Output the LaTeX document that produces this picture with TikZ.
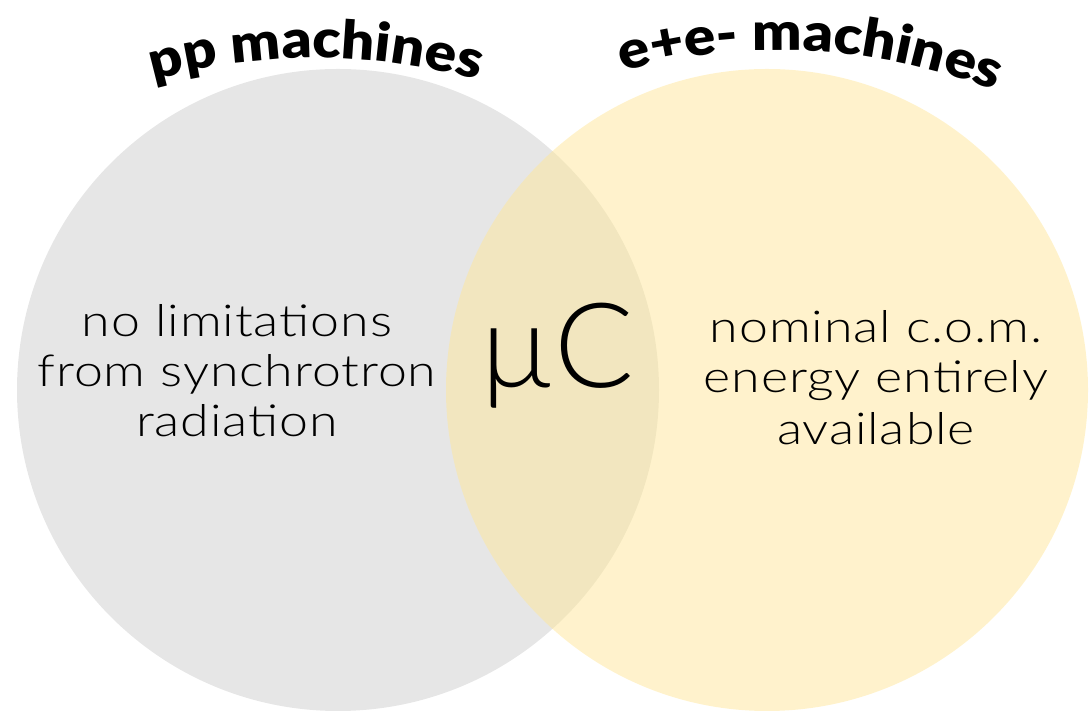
\documentclass[tikz,border=0pt]{standalone}
\usepackage{fontspec}
\setmainfont{Lato}[UprightFont={* Light}, FakeStretch=1.18, LetterSpace=2]
\newfontfamily\bigfont{Lato}[UprightFont={* Light}]
\newfontfamily\headfont{Lato}[UprightFont={* Black}, FakeStretch=1.1]
\usetikzlibrary{decorations.text}
\definecolor{ppgray}{HTML}{E6E6E6}
\definecolor{eegold}{HTML}{FFE699}
\begin{document}
\begin{tikzpicture}[x=1pt,y=1pt,
  setcircle/.style={circle, inner sep=0pt, minimum size=642pt},
  bodytext/.style={inner sep=0pt, anchor=base, font=\fontsize{44}{50}\selectfont},
  bigtext/.style={inner sep=0pt, anchor=base, font=\bigfont\fontsize{118}{118}\selectfont}]
\useasboundingbox (0,0) rectangle (1089,711);
\node[setcircle, fill=ppgray] (pp) at (338,321) {};
\node[setcircle, fill=eegold, fill opacity=0.5] (ee) at (767,321) {};
% curved titles
\path[decorate, decoration={text along path, text align=center,
  text={|\headfont\fontsize{53}{53}\selectfont|pp machines}}]
  (316,53) ++(125:600) arc (125:55:600);
\path[decorate, decoration={text along path, text align=center,
  text={|\headfont\fontsize{53}{53}\selectfont|e+e- machines}}]
  (780,77) ++(122:584) arc (122:52:584);
% left text
\node[bodytext] (l1) at (237,374) {no limitations};
\node[bodytext] (l2) at (237,324) {from synchrotron};
\node[bodytext] (l3) at (237,274) {radiation};
% right text
\node[bodytext] (r1) at (876,368) {nominal c.o.m.};
\node[bodytext] (r2) at (876,318) {energy entirely};
\node[bodytext] (r3) at (876,266) {available};
% centre
\node[bigtext] (mu) at (557,323) {µC};
\end{tikzpicture}
\end{document}
